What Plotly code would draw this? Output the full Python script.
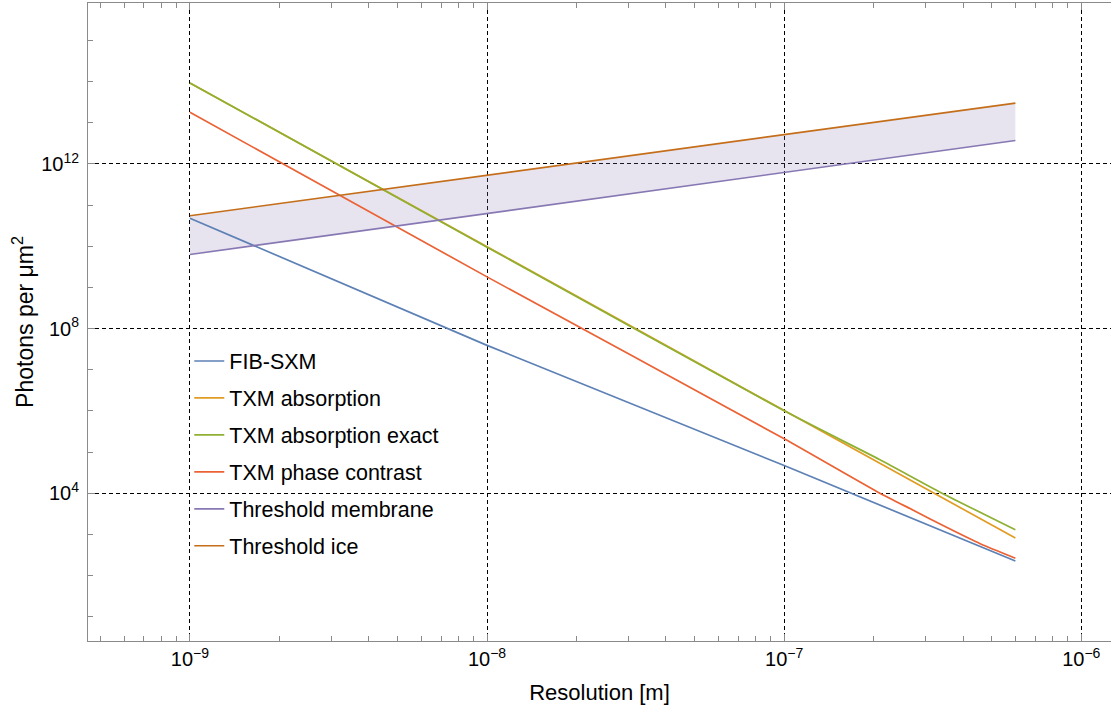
import plotly.graph_objects as go

# ---- data (x: resolution in m, y: photons per µm²) ----
fib_x = [1e-9, 1e-8, 1e-7, 6e-7]
fib_y = [4.8e10, 3.9e7, 4.7e4, 224]

txm_abs_x = [1e-9, 6e-7]
txm_abs_y = [9.3e13, 813]

txm_exact_x = [1e-9, 1e-8, 1e-7, 2.1e-7, 3.4e-7, 6e-7]
txm_exact_y = [9.3e13, 9.5e9, 1.0e6, 6.5e4, 1.0e4, 1290]

txm_phase_x = [1e-9, 1e-8, 1e-7, 2.1e-7, 2.73e-7, 3.52e-7, 4.57e-7, 6e-7]
txm_phase_y = [1.8e13, 1.8e9, 2.1e5, 1.0e4, 3800, 1480, 590, 263]

membrane_x = [1e-9, 6e-7]
membrane_y = [6.3e9, 3.7e12]

ice_x = [1e-9, 6e-7]
ice_y = [5.5e10, 3.0e13]

x_major = [1e-9, 1e-8, 1e-7, 1e-6]
x_major_text = ["10<sup>−9</sup>", "10<sup>−8</sup>", "10<sup>−7</sup>", "10<sup>−6</sup>"]
x_minor = [m * 10.0 ** e for e in (-10, -9, -8, -7, -6) for m in range(2, 10)]
y_major = [1e4, 1e8, 1e12]
y_major_text = ["10<sup>4</sup>", "10<sup>8</sup>", "10<sup>12</sup>"]
y_minor = [10.0 ** e for e in range(0, 17) if e not in (4, 8, 12)]

colors = {
    "FIB-SXM": "#5E81B5",
    "TXM absorption": "#E19C24",
    "TXM absorption exact": "#8FB032",
    "TXM phase contrast": "#EB6235",
    "Threshold membrane": "#8778B3",
    "Threshold ice": "#C56E1A",
}

FONT = "Liberation Sans, Arial, sans-serif"

fig = go.Figure()

# shaded band between the two thresholds
fig.add_trace(go.Scatter(x=membrane_x, y=membrane_y, mode="lines",
                         line=dict(width=0, color="rgba(0,0,0,0)"),
                         showlegend=False, hoverinfo="skip"))
fig.add_trace(go.Scatter(x=ice_x, y=ice_y, mode="lines", fill="tonexty",
                         fillcolor="rgba(135,120,179,0.2)",
                         line=dict(width=0, color="rgba(0,0,0,0)"),
                         showlegend=False, hoverinfo="skip"))

series = [
    ("FIB-SXM", fib_x, fib_y, "linear"),
    ("TXM absorption", txm_abs_x, txm_abs_y, "linear"),
    ("TXM absorption exact", txm_exact_x, txm_exact_y, "spline"),
    ("TXM phase contrast", txm_phase_x, txm_phase_y, "spline"),
    ("Threshold membrane", membrane_x, membrane_y, "linear"),
    ("Threshold ice", ice_x, ice_y, "linear"),
]
for i, (name, xs, ys, shape) in enumerate(series):
    fig.add_trace(go.Scatter(x=xs, y=ys, mode="lines", name=name,
                             legendgroup=f"g{i}",
                             line=dict(color=colors[name], width=1.7, shape=shape,
                                       smoothing=0.6 if shape == "spline" else None)))

axis_common = dict(
    showline=True, linecolor="#8a8a8a", linewidth=1,
    ticks="inside", tickcolor="#8a8a8a", ticklen=7, tickwidth=1,
    showgrid=True, gridcolor="black", gridwidth=1, griddash="4px,3px",
    zeroline=False,
    tickfont=dict(family=FONT, size=20, color="black"),
)

fig.update_xaxes(
    type="log", range=[-9.343, -5.900],
    tickmode="array", tickvals=x_major, ticktext=x_major_text,
    mirror="ticks",
    minor=dict(tickmode="array", tickvals=x_minor, ticks="inside", ticklen=5,
               tickcolor="#8a8a8a", showgrid=False),
    title=dict(text="Resolution [m]", font=dict(family=FONT, size=22, color="black")),
    **axis_common,
)
fig.update_yaxes(
    type="log", range=[0.408, 15.91],
    tickmode="array", tickvals=y_major, ticktext=y_major_text,
    ticklabelstandoff=4,
    minor=dict(tickmode="array", tickvals=y_minor, ticks="inside", ticklen=5,
               tickcolor="#8a8a8a", showgrid=False),
    title=dict(text="Photons per μm<sup>2</sup>", standoff=1,
               font=dict(family=FONT, size=23, color="black")),
    **axis_common,
)

fig.update_layout(
    width=1111, height=708,
    margin=dict(l=88, r=0, t=3, b=67, autoexpand=False),
    paper_bgcolor="white", plot_bgcolor="white",
    font=dict(family=FONT, color="black"),
    legend=dict(
        x=0.099, y=0.471, xanchor="left", yanchor="top",
        bgcolor="rgba(0,0,0,0)", borderwidth=0,
        font=dict(size=21.5, color="black", family=FONT),
        tracegroupgap=6,
    ),
)

fig.write_html("out.html")
